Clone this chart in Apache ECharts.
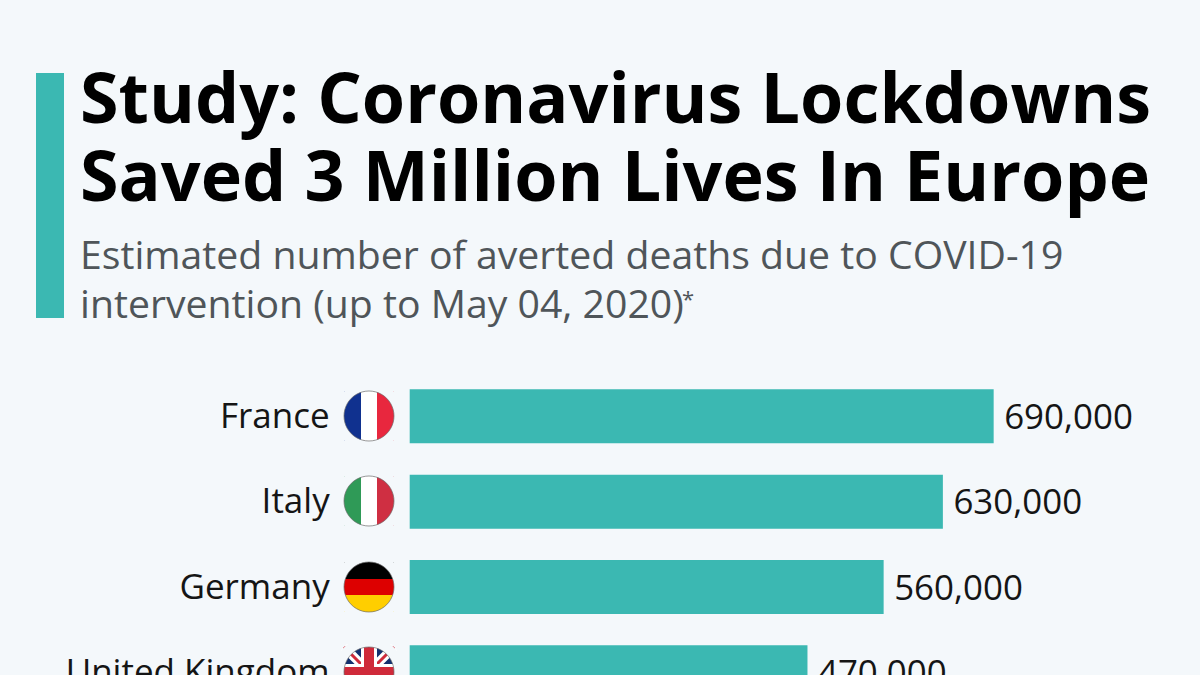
<!DOCTYPE html>
<html><head><meta charset="utf-8">
<style>html,body{margin:0;padding:0;background:#f4f8fb}#c{width:1200px;height:675px}</style>
<script src="https://cdn.jsdelivr.net/npm/echarts@6/dist/echarts.min.js"></script>
</head><body><div id="c"></div>
<script>
const categories=['France','Italy','Germany','United Kingdom'];
const values=[690000,630000,560000,470000];
const titleLines=['Study: Coronavirus Lockdowns','Saved 3 Million Lives In Europe'];
const subtitleLines=['Estimated number of averted deaths due to COVID-19','intervention (up to May 04, 2020)'];
const font='"Open Sans"';
const bg='#f4f8fb';
const chart=echarts.init(document.getElementById('c'),null,{renderer:'svg'});
const R=25;
const rect=(x,y,width,height,fill)=>({type:'rect',shape:{x,y,width,height},style:{fill}});
const mask=()=>[
 {type:'ring',shape:{cx:0,cy:0,r:35,r0:R},style:{fill:bg}},
 {type:'circle',shape:{cx:0,cy:0,r:R},style:{fill:'none',stroke:'#6b6b6b',lineWidth:0.7}}
];
const vTri=c=>[rect(-25,-25,17,50,c[0]),rect(-8,-25,16,50,c[1]),rect(8,-25,17,50,c[2]),...mask()];
const hTri=c=>[rect(-25,-25,50,17,c[0]),rect(-25,-8,50,16,c[1]),rect(-25,8,50,17,c[2]),...mask()];
function uk(){const b='#12306f',r='#cf2a3a';return [
 rect(-25,-25,50,50,b),
 {type:'line',shape:{x1:-25,y1:-25,x2:25,y2:25},style:{stroke:'#fff',lineWidth:9}},
 {type:'line',shape:{x1:25,y1:-25,x2:-25,y2:25},style:{stroke:'#fff',lineWidth:9}},
 {type:'line',shape:{x1:-25,y1:-25,x2:25,y2:25},style:{stroke:r,lineWidth:3}},
 {type:'line',shape:{x1:25,y1:-25,x2:-25,y2:25},style:{stroke:r,lineWidth:3}},
 rect(-25,-8,50,16,'#fff'),rect(-8,-25,16,50,'#fff'),
 rect(-25,-5,50,10,r),rect(-5,-25,10,50,r),...mask()];}
const flags=[vTri(['#10318f','#ffffff','#e8273e']),vTri(['#2f9a57','#ffffff','#cf2f42']),hTri(['#000000','#dd0000','#ffce00']),uk()];
const centers=[416,501,587,672];
chart.setOption({
 animation:false,
 backgroundColor:bg,
 grid:{left:409.7,top:373.7,width:760,height:341.3,outerBoundsMode:'none'},
 xAxis:{type:'value',min:0,max:898000,show:false},
 yAxis:{type:'category',inverse:true,data:categories,axisLine:{show:false},axisTick:{show:false},
  axisLabel:{margin:80,formatter:'{a|{value}}',rich:{a:{fontFamily:font,fontSize:35,color:'#151515',padding:[0,0,4,0]}}}},
 series:[{type:'bar',data:values,barWidth:54,itemStyle:{color:'#3bb8b2'},
  label:{show:true,position:'right',distance:10.5,offset:[0,-1],fontFamily:font,fontSize:34.9,color:'#151515',
   formatter:p=>p.value.toLocaleString('en-US')}}],
 graphic:[
  rect(36,73,28,245,'#3bb8b2'),
  {type:'text',x:80,y:61,style:{text:titleLines[0],font:'700 70px "Open Sans"',fill:'#000'}},
  {type:'text',x:80,y:139,style:{text:titleLines[1],font:'700 70px "Open Sans"',fill:'#000'}},
  {type:'text',x:80,y:234,style:{text:subtitleLines[0],font:'400 39.2px "Open Sans"',fill:'#4f5559'}},
  {type:'text',x:80,y:283,style:{text:subtitleLines[1],font:'400 39.2px "Open Sans"',fill:'#4f5559'}},
  {type:'text',x:682,y:287,style:{text:'*',font:'400 22px "Open Sans"',fill:'#4f5559'}},
  ...flags.map((c,i)=>({type:'group',x:369,y:centers[i],children:c}))
 ]
});
</script></body></html>
